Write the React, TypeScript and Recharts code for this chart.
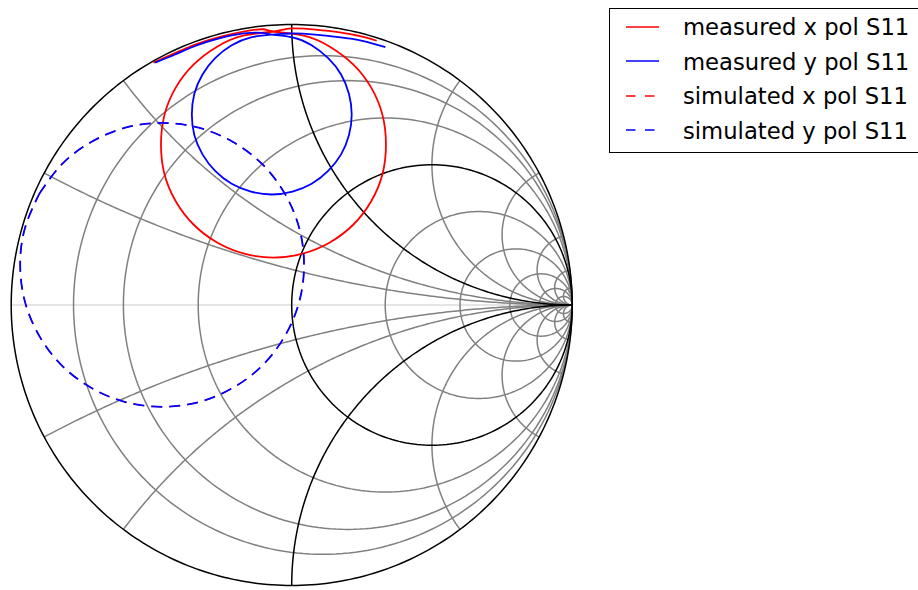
import { LineChart, Line, XAxis, YAxis } from 'recharts'

// S11 traces as reflection coefficient [re, im]
const measuredXPol: [number, number][] = [
  [-0.493, 0.864], [-0.418, 0.897], [-0.339, 0.93], [-0.256, 0.956], [-0.172, 0.975], [-0.103, 0.983],
  [-0.065, 0.975], [0.039, 0.961], [0.136, 0.921], [0.22, 0.857], [0.284, 0.774], [0.324, 0.676],
  [0.336, 0.572], [0.324, 0.468], [0.284, 0.371], [0.22, 0.287], [0.136, 0.223], [0.039, 0.183],
  [-0.065, 0.169], [-0.169, 0.183], [-0.266, 0.223], [-0.35, 0.287], [-0.414, 0.371], [-0.454, 0.468],
  [-0.466, 0.572], [-0.454, 0.676], [-0.414, 0.774], [-0.35, 0.857], [-0.266, 0.921], [-0.169, 0.961],
  [-0.065, 0.975], [0.0, 0.986], [0.086, 0.982], [0.171, 0.972], [0.256, 0.956], [0.303, 0.942],
]

const measuredYPol: [number, number][] = [
  [-0.487, 0.864], [-0.416, 0.893], [-0.337, 0.926], [-0.255, 0.951], [-0.171, 0.968], [-0.105, 0.97],
  [-0.071, 0.964], [0.003, 0.954], [0.071, 0.926], [0.13, 0.88], [0.176, 0.822], [0.204, 0.753],
  [0.214, 0.679], [0.204, 0.605], [0.176, 0.537], [0.13, 0.478], [0.071, 0.432], [0.003, 0.404],
  [-0.071, 0.394], [-0.145, 0.404], [-0.214, 0.432], [-0.273, 0.478], [-0.318, 0.537], [-0.347, 0.605],
  [-0.356, 0.679], [-0.347, 0.753], [-0.318, 0.822], [-0.273, 0.88], [-0.214, 0.926], [-0.145, 0.954],
  [-0.071, 0.964], [0.0, 0.968], [0.084, 0.964], [0.168, 0.955], [0.252, 0.942], [0.334, 0.919],
]

const simulatedYPol: [number, number][] = [
  [-0.9, 0.396], [-0.82, 0.501], [-0.715, 0.581], [-0.593, 0.632], [-0.462, 0.649], [-0.331, 0.632],
  [-0.209, 0.581], [-0.104, 0.501], [-0.024, 0.396], [0.027, 0.274], [0.044, 0.143], [0.027, 0.012],
  [-0.024, -0.11], [-0.104, -0.215], [-0.209, -0.295], [-0.331, -0.346], [-0.462, -0.363], [-0.593, -0.346],
  [-0.715, -0.295], [-0.82, -0.215], [-0.9, -0.11], [-0.951, 0.012], [-0.968, 0.143], [-0.951, 0.274],
  [-0.9, 0.396],
]

// the simulation is symmetric, both polarisations give the same curve
const simulatedXPol: [number, number][] = simulatedYPol

// normalised grid values
const resistanceValues = [0.125, 0.25, 0.5, 1, 2, 4, 8, 16, 32]
const reactanceValues = [0.25, 0.5, 1, 2, 4, 8, 16, 32]
const boldGridValue = 1

const legendLabels = ['measured x pol S11', 'measured y pol S11', 'simulated x pol S11', 'simulated y pol S11']

const GRID = '#808080'
const SIZE = 561
const DASH = '11 7'

type Pt = { re: number; im: number }

const toRows = (pts: [number, number][]): Pt[] => pts.map(([re, im]) => ({ re, im }))

function circlePoints(cRe: number, cIm: number, rad: number, a0: number, a1: number, n: number): Pt[] {
  const out: Pt[] = []
  for (let i = 0; i <= n; i++) {
    const a = a0 + ((a1 - a0) * i) / n
    out.push({ re: cRe + rad * Math.cos(a), im: cIm + rad * Math.sin(a) })
  }
  return out
}

// constant resistance circle
const resistanceCircle = (r: number) => circlePoints(r / (1 + r), 0, 1 / (1 + r), 0, 2 * Math.PI, 240)

// constant reactance arc, from the rim to the open-circuit point
function reactanceArc(x: number): Pt[] {
  const k = 1 / Math.abs(x)
  const rimRe = (x * x - 1) / (x * x + 1)
  const rimIm = (2 * Math.abs(x)) / (x * x + 1)
  let a0 = Math.atan2(rimIm - k, rimRe - 1)
  if (a0 < 0) a0 += 2 * Math.PI
  const pts = circlePoints(1, k, k, a0, 1.5 * Math.PI, 200)
  return x < 0 ? pts.map((p) => ({ re: p.re, im: -p.im })) : pts
}

const realAxis: Pt[] = [{ re: -1, im: 0 }, { re: 1, im: 0 }]
const outerCircle = circlePoints(0, 0, 1, 0, 2 * Math.PI, 360)

const series = [
  { name: legendLabels[0], data: measuredXPol, color: '#ff0000', dash: undefined, width: 1.8 },
  { name: legendLabels[1], data: measuredYPol, color: '#0000ff', dash: undefined, width: 1.8 },
  { name: legendLabels[2], data: simulatedXPol, color: '#ff0000', dash: DASH, width: 1.2 },
  { name: legendLabels[3], data: simulatedYPol, color: '#0000ff', dash: DASH, width: 1.8 },
]

function gridLine(key: string, data: Pt[], color: string, width = 1.5) {
  return (
    <Line
      key={key}
      data={data}
      dataKey="im"
      type="linear"
      stroke={color}
      strokeWidth={width}
      dot={false}
      activeDot={false}
      isAnimationActive={false}
      legendType="none"
    />
  )
}

function SmithLegend() {
  const first = 26.7
  const step = 34.5
  return (
    <>
      <div
        style={{
          position: 'absolute',
          left: 609,
          top: 8,
          width: 340,
          height: 145,
          border: '1px solid #000',
          boxSizing: 'border-box',
          background: '#fff',
        }}
      />
      {series.map((s, i) => {
        const cy = first + i * step
        return (
          <div key={s.name}>
            <svg style={{ position: 'absolute', left: 626, top: cy - 3 }} width={34} height={6}>
              <line x1={0} y1={3} x2={33} y2={3} stroke={s.color} strokeWidth={1.6} strokeDasharray={s.dash ? '9.5 9.5' : undefined} />
            </svg>
            <div
              style={{
                position: 'absolute',
                left: 683,
                top: cy + 8.3 - 18.6,
                fontFamily: '"DejaVu Sans", sans-serif',
                fontSize: 22.7,
                lineHeight: '22.7px',
                whiteSpace: 'nowrap',
                color: '#000',
              }}
            >
              {s.name}
            </div>
          </div>
        )
      })}
    </>
  )
}

export default function App() {
  const grayR = resistanceValues.filter((r) => r !== boldGridValue)
  const grayX = reactanceValues.filter((x) => x !== boldGridValue)
  return (
    <div style={{ position: 'relative', width: 918, height: 590, overflow: 'hidden', background: '#fff' }}>
      <style>{'body{margin:0}'}</style>
      <LineChart width={918} height={590} margin={{ top: 24.5, left: 11.2, right: 918 - 11.2 - SIZE, bottom: 590 - 24.5 - SIZE }}>
        <XAxis type="number" dataKey="re" domain={[-1, 1]} hide />
        <YAxis type="number" domain={[-1, 1]} hide />
        {gridLine('axis', realAxis, '#dcdcdc')}
        {grayR.map((r) => gridLine(`r${r}`, resistanceCircle(r), GRID))}
        {grayX.map((x) => gridLine(`x${x}`, reactanceArc(x), GRID))}
        {grayX.map((x) => gridLine(`x-${x}`, reactanceArc(-x), GRID))}
        {gridLine('r1', resistanceCircle(boldGridValue), '#000')}
        {gridLine('x1', reactanceArc(boldGridValue), '#000')}
        {gridLine('x-1', reactanceArc(-boldGridValue), '#000')}
        {gridLine('rim', outerCircle, '#000')}
        {series.map((s) => (
          <Line
            key={s.name}
            name={s.name}
            data={toRows(s.data)}
            dataKey="im"
            type="natural"
            stroke={s.color}
            strokeWidth={s.width}
            strokeDasharray={s.dash}
            dot={false}
            activeDot={false}
            isAnimationActive={false}
          />
        ))}
      </LineChart>
      <SmithLegend />
    </div>
  )
}
